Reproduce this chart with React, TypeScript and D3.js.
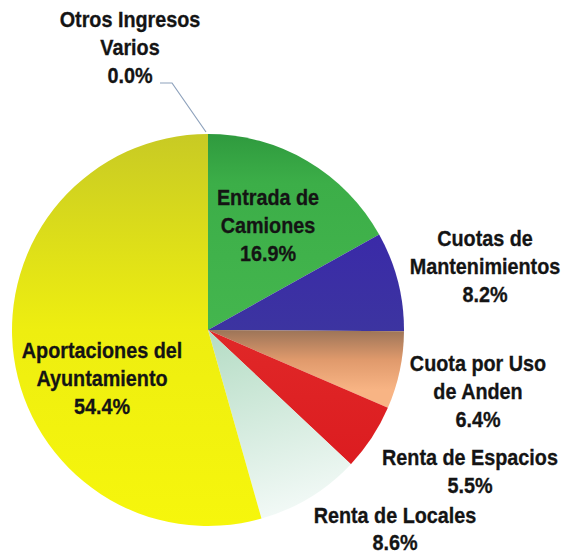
import React from "react";
import * as d3 from "d3";

const categories = [
  "Otros Ingresos Varios",
  "Entrada de Camiones",
  "Cuotas de Mantenimientos",
  "Cuota por Uso de Anden",
  "Renta de Espacios",
  "Renta de Locales",
  "Aportaciones del Ayuntamiento",
];
const values = [0.0, 16.9, 8.2, 6.4, 5.5, 8.6, 54.4];
const labelLines = [
  ["Otros Ingresos", "Varios"],
  ["Entrada de", "Camiones"],
  ["Cuotas de", "Mantenimientos"],
  ["Cuota por Uso", "de Anden"],
  ["Renta de Espacios"],
  ["Renta de Locales"],
  ["Aportaciones del", "Ayuntamiento"],
];
const fills = ["#c8d020", "url(#gGreen)", "url(#gBlue)", "url(#gOrange)", "url(#gRed)", "url(#gLight)", "url(#gYellow)"];
// label anchor (first line baseline, center) relative to pie center
const labelPos: [number, number][] = [
  [-78, -303],
  [60, -125],
  [277, -84],
  [270, 41],
  [262, 135],
  [187, 193],
  [-106, 28],
];
const labelGap = [28, 28, 28, 28, 28, 27, 28];

const W = 568, H = 557;
const cx = 208, cy = 330, R = 196;
const FONT = "'Liberation Sans', Arial, sans-serif";

export default function App() {
  const pie = d3.pie<number>().sort(null).value((d) => d).startAngle(0).endAngle(2 * Math.PI);
  const arcs = pie(values);
  const arc = d3.arc<d3.PieArcDatum<number>>().innerRadius(0).outerRadius(R);
  return (
    <svg width={W} height={H} style={{ position: "absolute", left: 0, top: 0, background: "#fff" }}>
      <defs>
        <linearGradient id="gGreen" gradientUnits="userSpaceOnUse" x1="0" y1="-196" x2="0" y2="0">
          <stop offset="0" stopColor="#2f9a3e" />
          <stop offset="0.25" stopColor="#3cae48" />
          <stop offset="1" stopColor="#44b64e" />
        </linearGradient>
        <linearGradient id="gBlue" x1="0" y1="0" x2="0" y2="1">
          <stop offset="0" stopColor="#3a2aa8" />
          <stop offset="1" stopColor="#3c34a0" />
        </linearGradient>
        <linearGradient id="gOrange" gradientUnits="userSpaceOnUse" x1="0" y1="0" x2="0" y2="60">
          <stop offset="0" stopColor="#9c7458" />
          <stop offset="0.5" stopColor="#e09a6c" />
          <stop offset="1" stopColor="#f8b484" />
        </linearGradient>
        <linearGradient id="gRed" x1="0" y1="0" x2="0" y2="1">
          <stop offset="0" stopColor="#e02828" />
          <stop offset="1" stopColor="#dc1c20" />
        </linearGradient>
        <linearGradient id="gLight" gradientUnits="userSpaceOnUse" x1="0" y1="0" x2="60" y2="196">
          <stop offset="0" stopColor="#b4dcc4" />
          <stop offset="1" stopColor="#f4faf8" />
        </linearGradient>
        <linearGradient id="gYellow" gradientUnits="userSpaceOnUse" x1="0" y1="-196" x2="0" y2="196">
          <stop offset="0" stopColor="#c8ca24" />
          <stop offset="0.3" stopColor="#dfe018" />
          <stop offset="0.5" stopColor="#eeee10" />
          <stop offset="1" stopColor="#f6f60c" />
        </linearGradient>
      </defs>
      <g transform={`translate(${cx},${cy})`}>
        {arcs.map((a, i) => (
          <path key={categories[i]} d={arc(a) || ""} fill={fills[i]} />
        ))}
        <polyline points="-48,-247 -36,-247 -2,-198" fill="none" stroke="#8ea2bc" strokeWidth={1.2} />
        {arcs.map((a, i) => {
          const [lx, ly] = labelPos[i];
          const lines = [...labelLines[i], `${values[i].toFixed(1)}%`];
          return (
            <g key={"t" + i} transform={`translate(${lx},${ly}) scale(0.9,1.04)`}>
              <text
                x={0}
                y={0}
                textAnchor="middle"
                fontFamily={FONT}
                fontWeight="bold"
                fontSize={22}
                fill="#141414"
                stroke="#141414"
                strokeWidth={0.3}
              >
                {lines.map((l, j) => (
                  <tspan key={j} x={0} dy={j === 0 ? 0 : labelGap[i] / 1.04}>
                    {l}
                  </tspan>
                ))}
              </text>
            </g>
          );
        })}
      </g>
    </svg>
  );
}
